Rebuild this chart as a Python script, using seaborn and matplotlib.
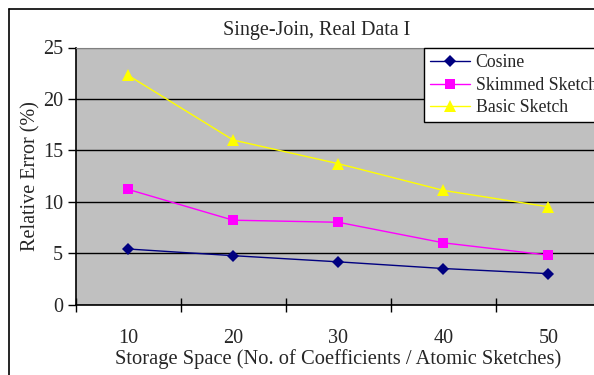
import matplotlib
matplotlib.use("Agg")
import matplotlib.pyplot as plt
from matplotlib.lines import Line2D
import seaborn as sns
import pandas as pd

# Storage budget (number of coefficients / atomic sketches)
storage = [10, 20, 30, 40, 50]
series_names = ["Cosine", "Skimmed Sketch", "Basic Sketch"]
cosine = [5.4, 4.75, 4.15, 3.5, 3.0]
skimmed = [11.2, 8.2, 8.0, 6.0, 4.8]
basic = [22.3, 16.0, 13.7, 11.1, 9.5]
y_ticks = [0, 5, 10, 15, 20, 25]

df = pd.DataFrame({
    "storage": storage * 3,
    "error": cosine + skimmed + basic,
    "method": [n for n in series_names for _ in storage],
})

sns.set_style("white")
plt.rcParams["font.family"] = ["Liberation Serif", "DejaVu Serif"]
FS = 14.5
LEG_FS = 12.8

W, H = 594, 375
fig = plt.figure(figsize=(W / 100, H / 100), dpi=100)

# outer chart-area frame (left and top edges)
fig.add_artist(Line2D([8.5 / W, 8.5 / W], [0, 1 - 8.5 / H], transform=fig.transFigure,
                      color="black", lw=1.2))
fig.add_artist(Line2D([8.5 / W, 1], [1 - 8.5 / H, 1 - 8.5 / H], transform=fig.transFigure,
                      color="black", lw=1.2))

left, right, top, bottom = 75.5, 601, 47.5, 304.5
ax = fig.add_axes([left / W, 1 - bottom / H, (right - left) / W, (bottom - top) / H])
ax.set_facecolor("#C0C0C0")

palette = {"Cosine": "#000080", "Skimmed Sketch": "#FF00FF", "Basic Sketch": "#FFFF00"}
markers = {"Cosine": "D", "Skimmed Sketch": "s", "Basic Sketch": "^"}
sizes_ms = {"Cosine": 6.6, "Skimmed Sketch": 7.4, "Basic Sketch": 8.4}

sns.lineplot(data=df, x="storage", y="error", hue="method", style="method",
             palette=palette, markers=markers, dashes=False, ax=ax,
             linewidth=1.0, markersize=8, markeredgewidth=0, legend=False, zorder=3)

for line, name in zip(ax.get_lines(), series_names):
    line.set_markersize(sizes_ms[name])

ax.set_xlim(5, 55)
ax.set_ylim(0, 25)

# category boundaries carry the tick marks, centres carry the labels
ax.set_xticks([5, 15, 25, 35, 45, 55])
ax.set_xticklabels([])
ax.set_xticks(storage, minor=True)
ax.set_xticklabels([str(s) for s in storage], minor=True)
ax.tick_params(axis="x", which="major", direction="inout", length=9.4, width=1, color="black")
ax.tick_params(axis="x", which="minor", length=0, pad=17.5, labelsize=FS)

ax.set_yticks(y_ticks)
ax.set_yticklabels([str(v) for v in y_ticks])
ax.tick_params(axis="y", direction="out", length=6, width=1, color="black", pad=3, labelsize=FS)
ax.tick_params(left=True, bottom=True)

ax.yaxis.grid(True, color="black", lw=1)
ax.yaxis.get_gridlines()[-1].set_color("#808080")
ax.set_axisbelow(True)

ax.spines["right"].set_visible(False)
ax.spines["top"].set_color("#808080")
ax.spines["left"].set_color("black")
ax.spines["bottom"].set_color("black")
ax.spines["left"].set_linewidth(1.2)
ax.spines["bottom"].set_linewidth(1.2)

ax.set_xlabel("Storage Space (No. of Coefficients / Atomic Sketches)", fontsize=14.8, labelpad=1)
ax.set_ylabel("Relative Error (%)", fontsize=FS, labelpad=2)

fig.text(317 / W, 1 - 30.5 / H, "Singe-Join, Real Data I", ha="center", va="center", fontsize=FS)

handles = [Line2D([], [], color=palette[n], marker=markers[n], markersize=sizes_ms[n],
                  markeredgewidth=0, lw=1.0) for n in series_names]
leg = fig.legend(handles, series_names, loc="upper left",
                 bbox_to_anchor=(424 / W, 1 - 48 / H), bbox_transform=fig.transFigure,
                 frameon=True, fancybox=False, shadow=False, fontsize=LEG_FS,
                 handlelength=2.25, handletextpad=0.3, labelspacing=0.3,
                 borderpad=0.36, borderaxespad=0)
leg.get_frame().set_edgecolor("black")
leg.get_frame().set_linewidth(1.0)
leg.get_frame().set_facecolor("white")
leg.get_frame().set_alpha(1)

fig.savefig("out.png", dpi=100, facecolor="white")
